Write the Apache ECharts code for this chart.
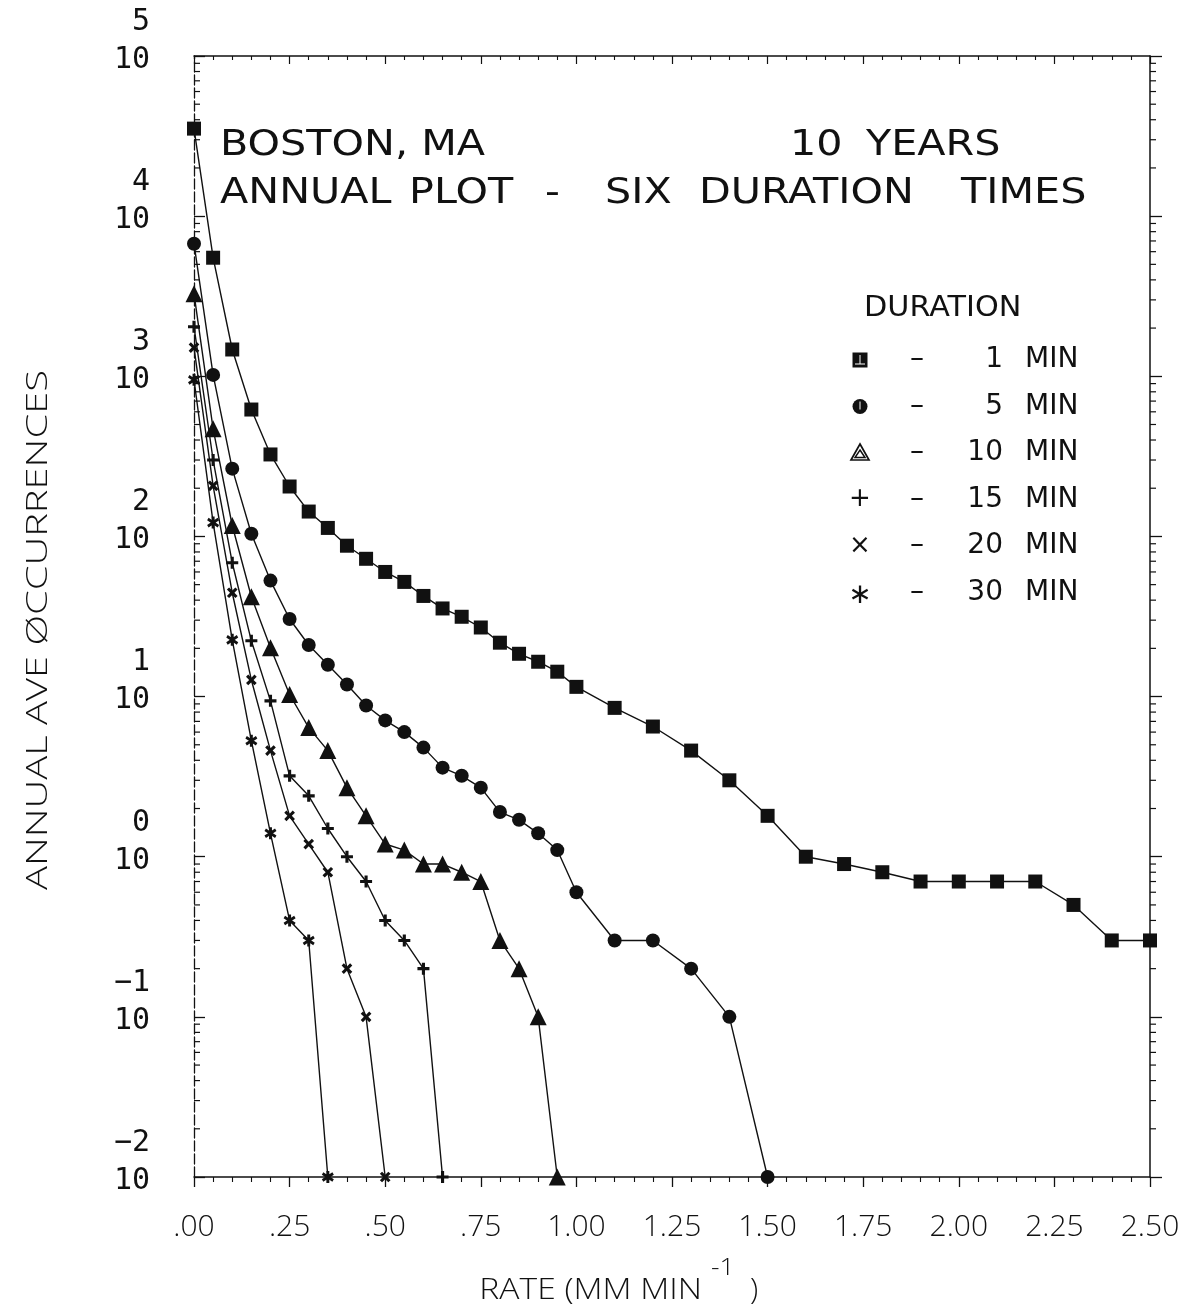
<!DOCTYPE html>
<html>
<head>
<meta charset="utf-8">
<title>Boston, MA - annual plot, six duration times</title>
<script src="https://cdn.jsdelivr.net/npm/echarts@6/dist/echarts.min.js"></script>
<style>
  html, body { margin: 0; padding: 0; background: #ffffff; }
  #chart { width: 1186px; height: 1315px; }
</style>
</head>
<body>
<div id="chart"></div>
<script>
// Rainfall rate (mm/min) at which exceedances are counted
const rates = [0, 0.05, 0.10, 0.15, 0.20, 0.25, 0.30, 0.35, 0.40, 0.45, 0.50,
               0.55, 0.60, 0.65, 0.70, 0.75, 0.80, 0.85, 0.90, 0.95, 1.00,
               1.10, 1.20, 1.30, 1.40, 1.50, 1.60, 1.70, 1.80, 1.90, 2.00,
               2.10, 2.20, 2.30, 2.40, 2.50];

// Annual average occurrences per duration (0 = no occurrence, drawn on the floor of the axis)
const occ1min  = [35200, 5500, 1470, 620, 325, 205, 143, 113, 87.5, 72.5, 60,
                  52, 42.5, 35.5, 31.5, 27, 21.7, 18.5, 16.5, 14.3, 11.5,
                  8.5, 6.5, 4.6, 3.0, 1.8, 1.0, 0.9, 0.8, 0.7, 0.7,
                  0.7, 0.7, 0.5, 0.3, 0.3];
const occ5min  = [6730, 1020, 265, 104, 53, 30.5, 21, 15.8, 11.9, 8.8, 7.1,
                  6.0, 4.8, 3.6, 3.2, 2.7, 1.9, 1.7, 1.4, 1.1, 0.6,
                  0.3, 0.3, 0.2, 0.1, 0];
const occ10min = [3280, 470, 117, 42, 20.2, 10.3, 6.4, 4.6, 2.7, 1.8, 1.2,
                  1.1, 0.9, 0.9, 0.8, 0.7, 0.3, 0.2, 0.1, 0];
const occ15min = [2040, 300, 68.5, 22.3, 9.4, 3.2, 2.4, 1.5, 1.0, 0.7, 0.4,
                  0.3, 0.2, 0];
const occ20min = [1510, 207, 44.5, 12.7, 4.6, 1.8, 1.2, 0.8, 0.2, 0.1, 0];
const occ30min = [950, 122, 22.6, 5.3, 1.4, 0.4, 0.3, 0];

// Legend entries
const durationLabels = ['1', '5', '10', '15', '20', '30'];

// Axis ranges
const rateMax = 2.5;
const rateTickStep = 0.25;
const occMin = 0.01;
const occMax = 100000;

// Marker shapes
const PLUS = 'path://M3.7,0H6.3V3.7H10V6.3H6.3V10H3.7V6.3H0V3.7H3.7Z';
const STAR = 'path://M3.8,0L6.2,0L6.2,10L3.8,10Z M0.1,3.1L1.3,1.0L9.9,6.9L8.7,9.0Z M8.7,1.0L9.9,3.1L1.3,9.0L0.1,6.9Z';

const INK = '#111111';
const PLOT_FONT = '"Open Sans", "DejaVu Sans", sans-serif';
const TEXT_FONT = '"DejaVu Sans", "Noto Sans", sans-serif';
const MONO_FONT = '"DejaVu Sans Mono", monospace';

function toPoints(values) {
  return values.map((v, i) => [rates[i], v > 0 ? v : occMin]);
}

function lineSeries(name, values, symbol, size, rotate) {
  return {
    name: name,
    type: 'line',
    data: toPoints(values),
    symbol: symbol,
    symbolSize: size,
    symbolRotate: rotate || 0,
    showAllSymbol: true,
    clip: false,
    lineStyle: { color: INK, width: 1.4 },
    itemStyle: { color: INK },
    z: 4
  };
}

// Minor (2..9) positions inside each decade of the log axis
const logMinorTicks = [];
for (let e = Math.log10(occMin); e < Math.log10(occMax); e++) {
  for (let m = 2; m <= 9; m++) logMinorTicks.push([0, m * Math.pow(10, e)]);
}

function powerLabel(v) {
  const e = Math.round(Math.log10(v));
  return '{e|' + (e < 0 ? '\u2212' + (-e) : e) + '}\n{b|10}';
}

const chart = echarts.init(document.getElementById('chart'), null, { renderer: 'canvas' });

// ---- legend block ----
const legendX = 860, legendY0 = 360, legendDy = 46.5;
const ly = i => legendY0 + i * legendDy;
const legendText = (text, x, y, align, sx) => ({
  type: 'text', x: x, y: y, scaleX: sx || 1,
  style: { text: text, fontSize: 28, fontFamily: TEXT_FONT, fill: INK, align: align, verticalAlign: 'middle' }
});
const legendGraphics = [legendText('DURATION', 864, 309, 'left', 1.08)];
durationLabels.forEach((d, i) => {
  legendGraphics.push(
    legendText('\u2013', 917, ly(i), 'center'),
    legendText(d, 1003, ly(i), 'right'),
    legendText('MIN', 1025, ly(i), 'left')
  );
});
legendGraphics.push(
  { type: 'rect', shape: { x: legendX - 7.5, y: ly(0) - 7.5, width: 15, height: 15 }, style: { fill: INK } },
  { type: 'line', shape: { x1: legendX - 5, y1: ly(0) + 4, x2: legendX + 5, y2: ly(0) + 4 }, style: { stroke: '#fff', lineWidth: 1 } },
  { type: 'line', shape: { x1: legendX, y1: ly(0) - 5, x2: legendX, y2: ly(0) + 4 }, style: { stroke: '#fff', lineWidth: 1 } },
  { type: 'circle', shape: { cx: legendX, cy: ly(1), r: 7.5 }, style: { fill: INK } },
  { type: 'line', shape: { x1: legendX, y1: ly(1) - 5, x2: legendX, y2: ly(1) + 3 }, style: { stroke: '#fff', lineWidth: 1 } },
  { type: 'polygon', shape: { points: [[legendX, ly(2) - 9], [legendX + 9, ly(2) + 7], [legendX - 9, ly(2) + 7]] }, style: { fill: 'none', stroke: INK, lineWidth: 1.7 } },
  { type: 'polygon', shape: { points: [[legendX, ly(2) - 3], [legendX + 5, ly(2) + 4.5], [legendX - 5, ly(2) + 4.5]] }, style: { fill: 'none', stroke: INK, lineWidth: 1.5 } },
  { type: 'text', x: legendX, y: ly(3), style: { text: '+', fontSize: 26, fontFamily: TEXT_FONT, fill: INK, align: 'center', verticalAlign: 'middle' } },
  { type: 'text', x: legendX, y: ly(4), style: { text: '\u00d7', fontSize: 26, fontFamily: TEXT_FONT, fill: INK, align: 'center', verticalAlign: 'middle' } },
  { type: 'text', x: legendX, y: ly(5) + 3, style: { text: '\u2217', fontSize: 28, fontFamily: TEXT_FONT, fill: INK, align: 'center', verticalAlign: 'middle' } }
);

// ---- heading ----
const headingWords = [
  ['BOSTON, MA', 220, 146], ['10', 790, 146], ['YEARS', 866, 146],
  ['ANNUAL', 220, 194], ['PLOT', 409, 194], ['-', 545, 194], ['SIX', 605, 194],
  ['DURATION', 699, 194], ['TIMES', 961, 194]
];
const headingGraphics = headingWords.map(w => ({
  type: 'text', x: w[1], y: w[2], scaleX: 1.18,
  style: { text: w[0], fontSize: 35, fontFamily: TEXT_FONT, fill: INK, align: 'left', verticalAlign: 'middle' }
}));

// ---- axis titles ----
const axisNameGraphics = [
  { type: 'text', x: 38, y: 630, rotation: Math.PI / 2, scaleX: 1.33,
    style: { text: 'ANNUAL AVE \u00d8CCURRENCES', fontSize: 30, fontFamily: PLOT_FONT, fontWeight: 300, fill: INK, align: 'center', verticalAlign: 'middle' } },
  { type: 'text', x: 702, y: 1290, scaleX: 1.12,
    style: { text: 'RATE (MM MIN', fontSize: 30, fontFamily: PLOT_FONT, fontWeight: 300, fill: INK, align: 'right', verticalAlign: 'middle' } },
  { type: 'text', x: 711, y: 1268, scaleX: 1.1,
    style: { text: '-1', fontSize: 24, fontFamily: PLOT_FONT, fontWeight: 300, fill: INK, align: 'left', verticalAlign: 'middle' } },
  { type: 'text', x: 750, y: 1290,
    style: { text: ')', fontSize: 30, fontFamily: PLOT_FONT, fontWeight: 300, fill: INK, align: 'left', verticalAlign: 'middle' } }
];

const option = {
  backgroundColor: '#ffffff',
  animation: false,
  grid: { left: 194, right: 36, top: 56, bottom: 138, containLabel: false },
  xAxis: [
    {
      type: 'value', position: 'bottom', min: 0, max: rateMax, interval: rateTickStep,
      axisLine: { show: true, onZero: false, lineStyle: { color: INK, width: 1.5 } },
      axisTick: { show: true, inside: false, length: 10, lineStyle: { color: INK, width: 1.3 } },
      minorTick: { show: true, splitNumber: 5, length: 5, lineStyle: { color: INK, width: 1.1 } },
      splitLine: { show: false },
      axisLabel: {
        margin: 35, fontSize: 30, fontFamily: PLOT_FONT, fontWeight: 300, color: INK,
        formatter: v => v < 1 ? v.toFixed(2).replace(/^0/, '') : v.toFixed(2)
      }
    },
    {
      type: 'value', position: 'top', min: 0, max: rateMax, interval: rateTickStep,
      axisLine: { show: true, onZero: false, lineStyle: { color: INK, width: 1.5 } },
      axisTick: { show: true, inside: true, length: 8, lineStyle: { color: INK, width: 1.2 } },
      minorTick: { show: true, splitNumber: 5, length: 4, lineStyle: { color: INK, width: 1.1 } },
      splitLine: { show: false },
      axisLabel: { show: false }
    }
  ],
  yAxis: [
    {
      type: 'log', logBase: 10, position: 'left', min: occMin, max: occMax, interval: 1,
      axisLine: { show: true, onZero: false, lineStyle: { color: INK, width: 1.3, type: [10, 3] } },
      axisTick: { show: true, inside: true, length: 11, lineStyle: { color: INK, width: 1.3 } },
      splitLine: { show: false },
      axisLabel: {
        margin: 44, color: INK, align: 'right', formatter: powerLabel,
        padding: [0, 0, 40, 0],
        rich: {
          e: { fontSize: 30, lineHeight: 48, fontFamily: MONO_FONT, color: INK, align: 'right' },
          b: { fontSize: 30, lineHeight: 28, fontFamily: MONO_FONT, color: INK, align: 'right' }
        }
      }
    },
    {
      type: 'log', logBase: 10, position: 'right', min: occMin, max: occMax, interval: 1,
      axisLine: { show: true, onZero: false, lineStyle: { color: INK, width: 1.5 } },
      axisTick: { show: true, inside: false, length: 12, lineStyle: { color: INK, width: 1.3 } },
      splitLine: { show: false },
      axisLabel: { show: false }
    }
  ],
  graphic: [].concat(headingGraphics, legendGraphics, axisNameGraphics),
  series: [
    {
      name: 'log minor ticks',
      type: 'custom',
      silent: true,
      clip: false,
      data: logMinorTicks,
      z: 2,
      renderItem: function (params, api) {
        const v = api.value(1);
        const pL = api.coord([0, v]);
        const pR = api.coord([rateMax, v]);
        return {
          type: 'group',
          children: [
            { type: 'line', shape: { x1: pL[0], y1: pL[1], x2: pL[0] + 6, y2: pL[1] }, style: { stroke: INK, lineWidth: 1.2 } },
            { type: 'line', shape: { x1: pR[0], y1: pR[1], x2: pR[0] + 6, y2: pR[1] }, style: { stroke: INK, lineWidth: 1.2 } }
          ]
        };
      }
    },
    lineSeries('1 MIN', occ1min, 'rect', 14),
    lineSeries('5 MIN', occ5min, 'circle', 14),
    lineSeries('10 MIN', occ10min, 'triangle', 17),
    lineSeries('15 MIN', occ15min, PLUS, 12),
    lineSeries('20 MIN', occ20min, PLUS, 12, 45),
    lineSeries('30 MIN', occ30min, STAR, 12)
  ]
};

chart.setOption(option);
</script>
</body>
</html>
